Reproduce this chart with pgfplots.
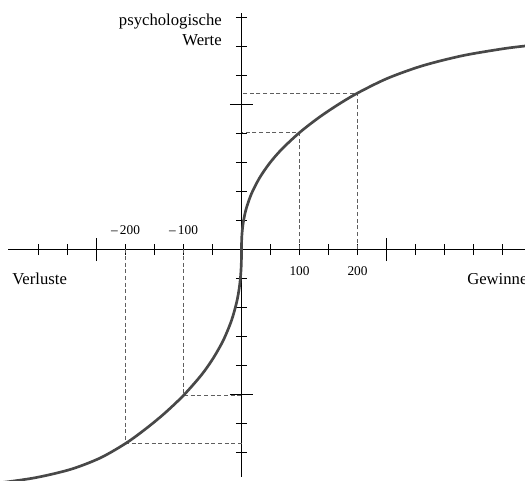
\documentclass[border=0pt]{standalone}
\usepackage{fontspec}
\setmainfont{Liberation Serif}
\usepackage{pgfplots}
\pgfplotsset{compat=1.18}

\definecolor{curve}{RGB}{72,72,72}
\definecolor{guide}{RGB}{95,95,95}
\tikzset{
  lbl/.style={inner sep=0pt, font=\fontsize{12.5}{15}\selectfont},
  tlbl/.style={inner sep=0pt, anchor=base, font=\fontsize{10}{12}\selectfont},
}

\begin{document}
\begin{tikzpicture}
\begin{axis}[
    x=0.435pt, y=21.75pt,
    axis lines=middle,
    axis line style={-, black, line width=0.6pt},
    every inner x axis line/.append style={-},
    every inner y axis line/.append style={-},
    xmin=-402.6, xmax=495,
    ymin=-7.84, ymax=8.14,
    clip=false,
    tick align=center,
    xtick={-250,250},
    minor xtick={-350,-300,-200,-150,-100,-50,50,100,150,200,300,350,400,450},
    ytick={-5,5},
    minor ytick={-7,-6,-4,-3,-2,-1,1,2,3,4,6,7,8},
    xticklabels={,,}, yticklabels={,,},
    major tick length=17.5pt,
    minor tick length=8.5pt,
    every tick/.style={black, line width=0.6pt},
    every minor tick/.style={black, line width=0.6pt},
  ]
  % guide lines
  \addplot[guide, densely dashed, line width=0.5pt] coordinates {(100,0) (100,4.03) (0,4.03)};
  \addplot[guide, densely dashed, line width=0.5pt] coordinates {(200,0) (200,5.39) (0,5.39)};
  \addplot[guide, densely dashed, line width=0.5pt] coordinates {(-100,0) (-100,-5.04) (0,-5.04)};
  \addplot[guide, densely dashed, line width=0.5pt] coordinates {(-200,0) (-200,-6.69) (0,-6.69)};

  % value function
  \addplot[curve, line width=2pt, smooth] coordinates {
    (-450,-8.107) (-416.4,-8.045) (-355.2,-7.869) (-294.8,-7.583) (-244,-7.193)
    (-200,-6.69) (-167.2,-6.217) (-134.5,-5.683) (-100.9,-5.05) (-68.97,-4.324)
    (-48.28,-3.734) (-31.03,-3.117) (-17.24,-2.448) (-8.62,-1.841) (-4.31,-1.386)
    (-1.72,-0.952) (-0.52,-0.583) (-0.086,-0.28)
    (0,0)
    (0.086,0.208) (0.517,0.443) (1.724,0.732) (4.31,1.077) (8.62,1.44)
    (17.24,1.927) (31.03,2.466) (48.28,2.97) (68.97,3.449) (100,4.03)
    (132.8,4.541) (165.5,4.982) (200,5.393) (251.7,5.902) (312.1,6.336)
    (381.0,6.683) (450.0,6.919) (488.8,7.017) (527.6,7.097)
  };

  \node[lbl, anchor=base east] at (axis cs:-33.6,7.74) {psychologische};
  \node[lbl, anchor=base east] at (axis cs:-33.6,7.02) {Werte};
  \node[lbl, anchor=base west] at (axis cs:-395.7,-1.224) {Verluste};
  \node[lbl, anchor=base west] at (axis cs:388.8,-1.224) {Gewinne};

  \node[tlbl] at (axis cs:-200,0.5) {–\,200};
  \node[tlbl] at (axis cs:-100,0.5) {–\,100};
  \node[tlbl] at (axis cs:100,-0.88) {100};
  \node[tlbl] at (axis cs:200,-0.88) {200};

  \coordinate (bl) at (axis cs:-416.4,-7.983);
  \coordinate (tr) at (axis cs:488.8,8.603);
\end{axis}
\pgfresetboundingbox
\useasboundingbox (bl) rectangle (tr);
\end{tikzpicture}
\end{document}
